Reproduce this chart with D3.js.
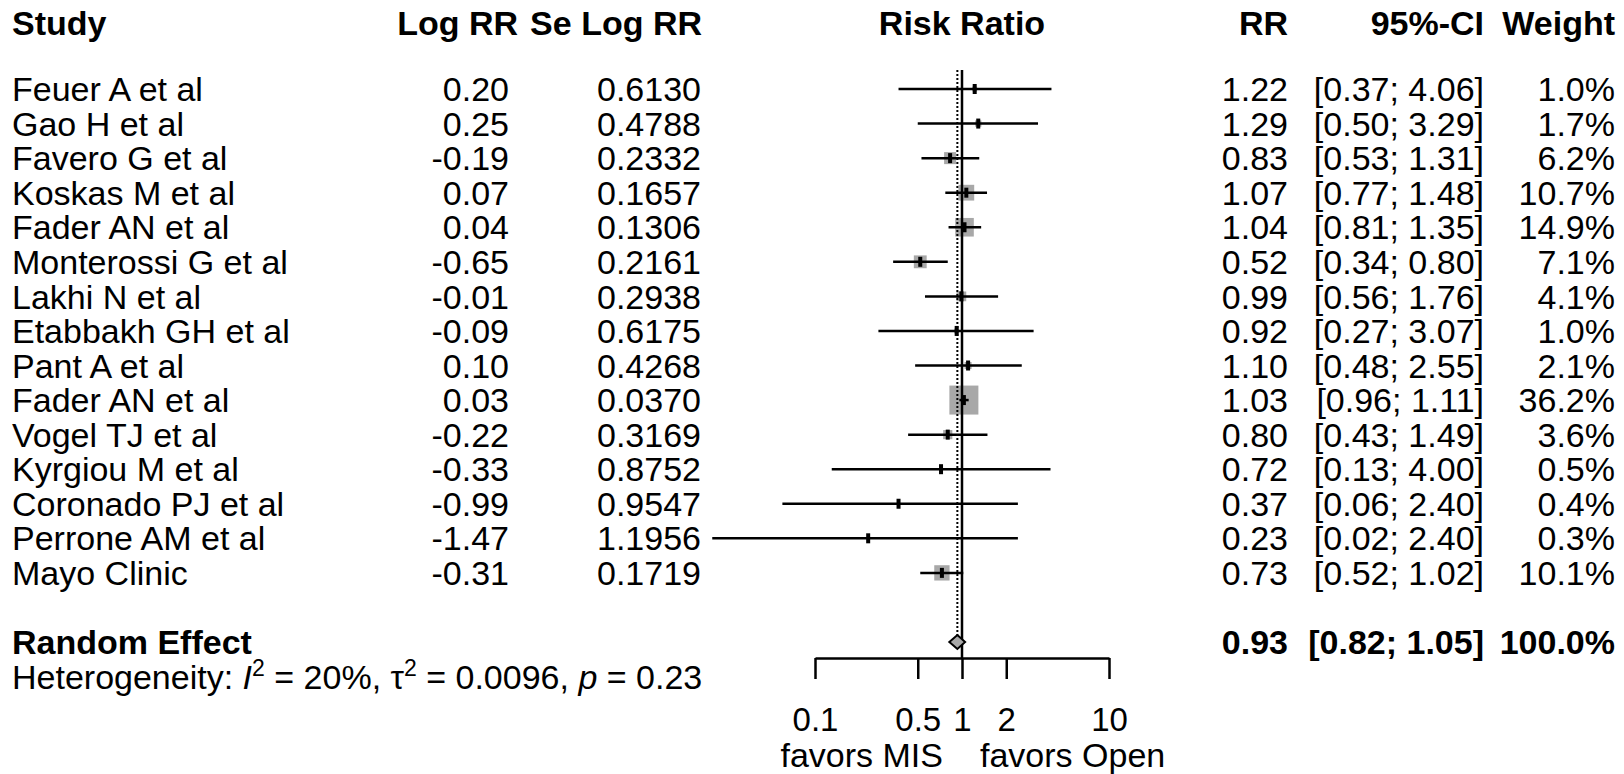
<!DOCTYPE html>
<html>
<head>
<meta charset="utf-8">
<script src="https://cdn.jsdelivr.net/npm/d3@7"></script>
<style>
  body { margin: 0; background: #fff; }
  svg { display: block; }
  text { font-family: "Liberation Sans", Arial, sans-serif; fill: #000; }
</style>
</head>
<body>
<svg id="chart" width="1624" height="774"></svg>
<script>
// study data
const studies = ["Feuer A et al", "Gao H et al", "Favero G et al", "Koskas M et al", "Fader AN et al",
  "Monterossi G et al", "Lakhi N et al", "Etabbakh GH et al", "Pant A et al", "Fader AN et al",
  "Vogel TJ et al", "Kyrgiou M et al", "Coronado PJ et al", "Perrone AM et al", "Mayo Clinic"];
const logRR = ["0.20", "0.25", "-0.19", "0.07", "0.04", "-0.65", "-0.01", "-0.09", "0.10", "0.03",
  "-0.22", "-0.33", "-0.99", "-1.47", "-0.31"];
const seLogRR = ["0.6130", "0.4788", "0.2332", "0.1657", "0.1306", "0.2161", "0.2938", "0.6175", "0.4268",
  "0.0370", "0.3169", "0.8752", "0.9547", "1.1956", "0.1719"];
const rr = [1.22, 1.29, 0.83, 1.07, 1.04, 0.52, 0.99, 0.92, 1.10, 1.03, 0.80, 0.72, 0.37, 0.23, 0.73];
const lower = [0.37, 0.50, 0.53, 0.77, 0.81, 0.34, 0.56, 0.27, 0.48, 0.96, 0.43, 0.13, 0.06, 0.02, 0.52];
const upper = [4.06, 3.29, 1.31, 1.48, 1.35, 0.80, 1.76, 3.07, 2.55, 1.11, 1.49, 4.00, 2.40, 2.40, 1.02];
const weight = [1.0, 1.7, 6.2, 10.7, 14.9, 7.1, 4.1, 1.0, 2.1, 36.2, 3.6, 0.5, 0.4, 0.3, 10.1];

// pooled (random effect)
const pooled = { rr: 0.93, lower: 0.82, upper: 1.05, weight: 100.0 };

const tickValues = [0.1, 0.5, 1, 2, 10];
const tickLabels = ["0.1", "0.5", "1", "2", "10"];

const svg = d3.select("#chart");
const FS = 34;

const x = d3.scaleLog().domain([0.1, 10]).range([815, 1109]);
// row centres; pooled row is index 16
const y = d3.scaleLinear().domain([0, 16]).range([89, 642]);
const side = d3.scaleSqrt().domain([0, 36.2]).range([0, 29]);

const fmt2 = d3.format(".2f");
const fmtW = d3.format(".1f");

function txt(g, px, py, s, anchor, bold) {
  return g.append("text")
    .attr("x", px)
    .attr("y", py + 0.358 * FS)
    .attr("text-anchor", anchor || "start")
    .style("font-size", FS + "px")
    .style("font-weight", bold ? "bold" : "normal")
    .text(s);
}

// headers
const head = svg.append("g");
const hy = 23;
txt(head, 12, hy, "Study", "start", true);
txt(head, 518, hy, "Log RR", "end", true);
txt(head, 702, hy, "Se Log RR", "end", true);
txt(head, x(1), hy, "Risk Ratio", "middle", true);
txt(head, 1288, hy, "RR", "end", true);
txt(head, 1484, hy, "95%-CI", "end", true);
txt(head, 1615, hy, "Weight", "end", true);

// study text columns
const rows = svg.append("g");
studies.forEach((s, i) => {
  const cy = y(i);
  txt(rows, 12, cy, s, "start");
  txt(rows, 509, cy, logRR[i], "end");
  txt(rows, 701, cy, seLogRR[i], "end");
  txt(rows, 1288, cy, fmt2(rr[i]), "end");
  txt(rows, 1484, cy, "[" + fmt2(lower[i]) + "; " + fmt2(upper[i]) + "]", "end");
  txt(rows, 1615, cy, fmtW(weight[i]) + "%", "end");
});

// pooled text
const py = y(16);
txt(rows, 12, py, "Random Effect", "start", true);
txt(rows, 1288, py, fmt2(pooled.rr), "end", true);
txt(rows, 1484, py, "[" + fmt2(pooled.lower) + "; " + fmt2(pooled.upper) + "]", "end", true);
txt(rows, 1615, py, fmtW(pooled.weight) + "%", "end", true);

// heterogeneity line
const het = txt(rows, 12, y(17), "", "start");
het.append("tspan").text("Heterogeneity: ");
het.append("tspan").style("font-style", "italic").text("I");
het.append("tspan").attr("dy", -13).style("font-size", "23px").text("2");
het.append("tspan").attr("dy", 13).text(" = 20%, \u03c4");
het.append("tspan").attr("dy", -13).style("font-size", "23px").text("2");
het.append("tspan").attr("dy", 13).text(" = 0.0096, ");
het.append("tspan").style("font-style", "italic").text("p");
het.append("tspan").text(" = 0.23");

// plot
const plot = svg.append("g");
const axisY = 658;

// squares
plot.selectAll("rect.sq")
  .data(studies)
  .join("rect")
  .attr("class", "sq")
  .attr("x", (d, i) => x(rr[i]) - side(weight[i]) / 2)
  .attr("y", (d, i) => y(i) - side(weight[i]) / 2)
  .attr("width", (d, i) => side(weight[i]))
  .attr("height", (d, i) => side(weight[i]))
  .attr("fill", "#a8a8a8");

// reference lines
plot.append("line")
  .attr("x1", x(pooled.rr)).attr("x2", x(pooled.rr))
  .attr("y1", 70).attr("y2", py - 7)
  .attr("stroke", "#000").attr("stroke-width", 2)
  .attr("stroke-dasharray", "2,2");
plot.append("line")
  .attr("x1", x(1)).attr("x2", x(1))
  .attr("y1", 70).attr("y2", axisY)
  .attr("stroke", "#000").attr("stroke-width", 2.5);

// CI lines
plot.selectAll("line.ci")
  .data(studies)
  .join("line")
  .attr("class", "ci")
  .attr("x1", (d, i) => x(lower[i]))
  .attr("x2", (d, i) => x(upper[i]))
  .attr("y1", (d, i) => y(i))
  .attr("y2", (d, i) => y(i))
  .attr("stroke", "#000")
  .attr("stroke-width", 2.5);

// point marks
plot.selectAll("rect.pt")
  .data(studies)
  .join("rect")
  .attr("class", "pt")
  .attr("x", (d, i) => x(rr[i]) - 2)
  .attr("y", (d, i) => y(i) - 5)
  .attr("width", 4)
  .attr("height", 10)
  .attr("fill", "#000");

// pooled diamond
plot.append("path")
  .attr("d", d3.line()([
    [x(pooled.lower), py], [x(pooled.rr), py - 7],
    [x(pooled.upper), py], [x(pooled.rr), py + 7]
  ]) + "Z")
  .attr("fill", "#a8a8a8")
  .attr("stroke", "#000")
  .attr("stroke-width", 2);

// axis
const axis = d3.axisBottom(x)
  .tickValues(tickValues)
  .tickFormat((d, i) => tickLabels[i])
  .tickSizeInner(21)
  .tickSizeOuter(0);

const ax = svg.append("g")
  .attr("transform", "translate(0," + axisY + ")")
  .call(axis);
ax.select(".domain").attr("stroke-width", 2.5);
ax.selectAll(".tick line").attr("stroke-width", 2.5);
ax.selectAll(".tick text")
  .attr("y", 73).attr("dy", 0)
  .style("font-size", "33px")
  .style("font-family", "'Liberation Sans', Arial, sans-serif")
  .attr("fill", "#000");

txt(svg, 943, 755, "favors MIS", "end");
txt(svg, 980, 755, "favors Open", "start");
</script>
</body>
</html>
